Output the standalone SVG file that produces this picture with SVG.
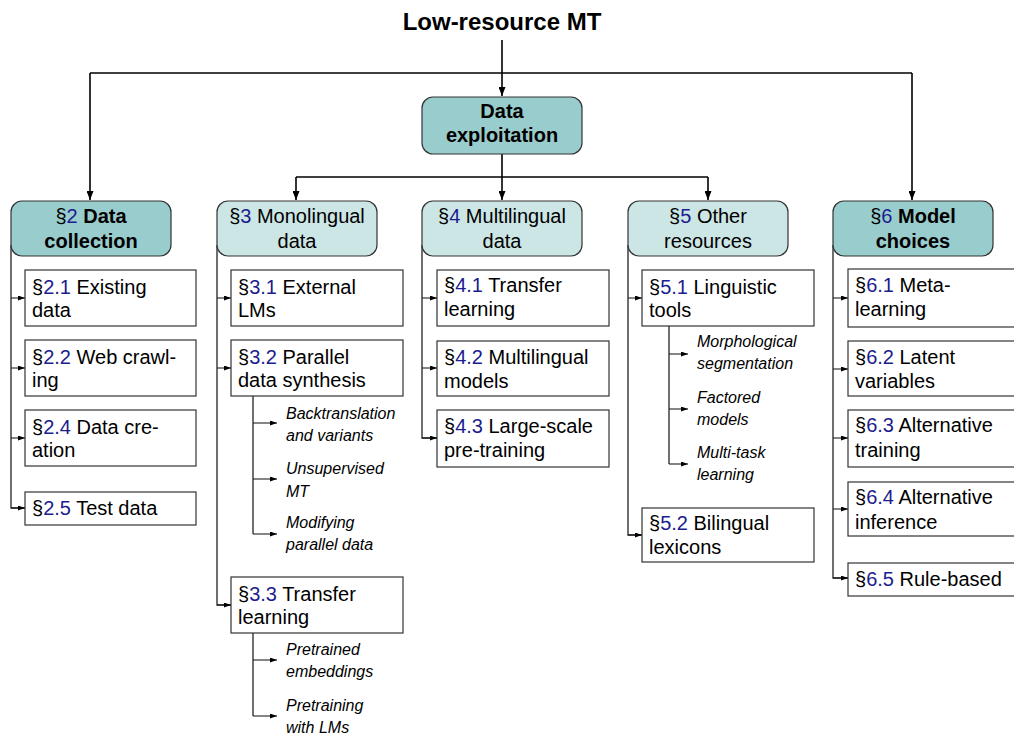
<svg xmlns="http://www.w3.org/2000/svg" width="1014" height="736" viewBox="0 0 1014 736">
<defs>
<marker id="big" viewBox="0 0 9 7" refX="9" refY="3.5" markerWidth="9" markerHeight="7" markerUnits="userSpaceOnUse" orient="auto">
<path d="M0,0 L9,3.5 L0,7 z" fill="#000"/>
</marker>
<marker id="small" viewBox="0 0 7 5" refX="7" refY="2.5" markerWidth="7" markerHeight="5" markerUnits="userSpaceOnUse" orient="auto">
<path d="M0,0 L7,2.5 L0,5 z" fill="#000"/>
</marker>
</defs>
<style>
text{font-family:"Liberation Sans",Arial,Helvetica,sans-serif;fill:#000}
.title{font-size:24px;font-weight:bold}
.h{font-size:20px;text-anchor:middle}
.b{font-weight:bold}
.t{font-size:20px}
.n{fill:#1c1c8e}
.it{font-size:16px;font-style:italic}
.dark{fill:#99cccc;stroke:#333;stroke-width:1.2}
.light{fill:#cce6e6;stroke:#333;stroke-width:1.2}
.box{fill:#fff;stroke:#333;stroke-width:1.2}
.main{fill:none;stroke:#000;stroke-width:1.6}
.col{fill:none;stroke:#222;stroke-width:1.3}
.arr{fill:none;stroke:#222;stroke-width:1.1}
</style>
<rect width="1014" height="736" fill="#fff"/>

<g id="title"><text class="title" x="502" y="30" text-anchor="middle">Low-resource MT</text></g>

<g id="connectors">
<path class="main" d="M502,40 V96" marker-end="url(#big)"/>
<path class="main" d="M90,73 H912"/>
<path class="main" d="M90,73 V200" marker-end="url(#big)"/>
<path class="main" d="M912,73 V200" marker-end="url(#big)"/>
<path class="main" d="M502,154 V200" marker-end="url(#big)"/>
<path class="main" d="M296,177 H708"/>
<path class="main" d="M296,177 V200" marker-end="url(#big)"/>
<path class="main" d="M708,177 V200" marker-end="url(#big)"/>

<path class="col" d="M11,245 V508 H25"/>
<path class="arr" d="M11,298 H25" marker-end="url(#small)"/>
<path class="arr" d="M11,368 H25" marker-end="url(#small)"/>
<path class="arr" d="M11,438 H25" marker-end="url(#small)"/>
<path class="arr" d="M11,508 H25" marker-end="url(#small)"/>

<path class="col" d="M217,245 V605 H231"/>
<path class="arr" d="M217,298 H231" marker-end="url(#small)"/>
<path class="arr" d="M217,368 H231" marker-end="url(#small)"/>
<path class="arr" d="M217,605 H231" marker-end="url(#small)"/>

<path class="col" d="M253,396 V534"/>
<path class="arr" d="M253,423 H277" marker-end="url(#small)"/>
<path class="arr" d="M253,479 H277" marker-end="url(#small)"/>
<path class="arr" d="M253,534 H277" marker-end="url(#small)"/>

<path class="col" d="M253,633 V716"/>
<path class="arr" d="M253,660 H277" marker-end="url(#small)"/>
<path class="arr" d="M253,716 H277" marker-end="url(#small)"/>

<path class="col" d="M422,245 V438 H437"/>
<path class="arr" d="M422,298 H437" marker-end="url(#small)"/>
<path class="arr" d="M422,368 H437" marker-end="url(#small)"/>
<path class="arr" d="M422,438 H437" marker-end="url(#small)"/>

<path class="col" d="M628,245 V535 H642"/>
<path class="arr" d="M628,298 H642" marker-end="url(#small)"/>
<path class="arr" d="M628,535 H642" marker-end="url(#small)"/>

<path class="col" d="M669,326 V464"/>
<path class="arr" d="M669,354 H688" marker-end="url(#small)"/>
<path class="arr" d="M669,409 H688" marker-end="url(#small)"/>
<path class="arr" d="M669,464 H688" marker-end="url(#small)"/>

<path class="col" d="M833,245 V578 H848"/>
<path class="arr" d="M833,298 H848" marker-end="url(#small)"/>
<path class="arr" d="M833,369 H848" marker-end="url(#small)"/>
<path class="arr" d="M833,438 H848" marker-end="url(#small)"/>
<path class="arr" d="M833,509 H848" marker-end="url(#small)"/>
<path class="arr" d="M833,578 H848" marker-end="url(#small)"/>
</g>

<g id="data-exploitation">
<rect class="dark" x="422" y="97" width="160" height="57" rx="11"/>
<text class="h b" x="502" y="118">Data</text>
<text class="h b" x="502" y="142">exploitation</text>
</g>

<g id="s2">
<rect class="dark" x="11" y="201" width="160" height="55" rx="11"/>
<text class="h" x="91" y="223">§<tspan class="n">2</tspan> <tspan class="b">Data</tspan></text>
<text class="h b" x="91" y="248">collection</text>
</g>
<g id="s3">
<rect class="light" x="217" y="201" width="160" height="55" rx="11"/>
<text class="h" x="297" y="223">§<tspan class="n">3</tspan> Monolingual</text>
<text class="h" x="297" y="248">data</text>
</g>
<g id="s4">
<rect class="light" x="422" y="201" width="160" height="55" rx="11"/>
<text class="h" x="502" y="223">§<tspan class="n">4</tspan> Multilingual</text>
<text class="h" x="502" y="248">data</text>
</g>
<g id="s5">
<rect class="light" x="628" y="201" width="160" height="55" rx="11"/>
<text class="h" x="708" y="223">§<tspan class="n">5</tspan> Other</text>
<text class="h" x="708" y="248">resources</text>
</g>
<g id="s6">
<rect class="dark" x="833" y="201" width="160" height="55" rx="11"/>
<text class="h" x="913" y="223">§<tspan class="n">6</tspan> <tspan class="b">Model</tspan></text>
<text class="h b" x="913" y="248">choices</text>
</g>

<g id="s2-1"><rect class="box" x="25" y="270" width="171" height="56"/>
<text class="t" x="32" y="294">§<tspan class="n">2.1</tspan> Existing</text><text class="t" x="32" y="317">data</text></g>
<g id="s2-2"><rect class="box" x="25" y="340" width="171" height="56"/>
<text class="t" x="32" y="364">§<tspan class="n">2.2</tspan> Web crawl-</text><text class="t" x="32" y="387">ing</text></g>
<g id="s2-4"><rect class="box" x="25" y="410" width="171" height="56"/>
<text class="t" x="32" y="434">§<tspan class="n">2.4</tspan> Data cre-</text><text class="t" x="32" y="457">ation</text></g>
<g id="s2-5"><rect class="box" x="25" y="492" width="171" height="33"/>
<text class="t" x="32" y="515">§<tspan class="n">2.5</tspan> Test data</text></g>

<g id="s3-1"><rect class="box" x="231" y="270" width="172" height="56"/>
<text class="t" x="238" y="294">§<tspan class="n">3.1</tspan> External</text><text class="t" x="238" y="317">LMs</text></g>
<g id="s3-2"><rect class="box" x="231" y="340" width="172" height="56"/>
<text class="t" x="238" y="364">§<tspan class="n">3.2</tspan> Parallel</text><text class="t" x="238" y="387">data synthesis</text></g>
<g id="s3-2-items">
<text class="it" x="286" y="419">Backtranslation</text><text class="it" x="286" y="441">and variants</text>
<text class="it" x="286" y="474">Unsupervised</text><text class="it" x="286" y="497">MT</text>
<text class="it" x="286" y="528">Modifying</text><text class="it" x="286" y="550">parallel data</text>
</g>
<g id="s3-3"><rect class="box" x="231" y="577" width="172" height="56"/>
<text class="t" x="238" y="601">§<tspan class="n">3.3</tspan> Transfer</text><text class="t" x="238" y="624">learning</text></g>
<g id="s3-3-items">
<text class="it" x="286" y="655">Pretrained</text><text class="it" x="286" y="677">embeddings</text>
<text class="it" x="286" y="711">Pretraining</text><text class="it" x="286" y="733">with LMs</text>
</g>

<g id="s4-1"><rect class="box" x="437" y="270" width="172" height="56"/>
<text class="t" x="444" y="292">§<tspan class="n">4.1</tspan> Transfer</text><text class="t" x="444" y="316">learning</text></g>
<g id="s4-2"><rect class="box" x="437" y="341" width="172" height="55"/>
<text class="t" x="444" y="364">§<tspan class="n">4.2</tspan> Multilingual</text><text class="t" x="444" y="388">models</text></g>
<g id="s4-3"><rect class="box" x="437" y="410" width="172" height="57"/>
<text class="t" x="444" y="433">§<tspan class="n">4.3</tspan> Large-scale</text><text class="t" x="444" y="457">pre-training</text></g>

<g id="s5-1"><rect class="box" x="642" y="270" width="172" height="56"/>
<text class="t" x="649" y="294">§<tspan class="n">5.1</tspan> Linguistic</text><text class="t" x="649" y="317">tools</text></g>
<g id="s5-1-items">
<text class="it" x="697" y="347">Morphological</text><text class="it" x="697" y="369">segmentation</text>
<text class="it" x="697" y="403">Factored</text><text class="it" x="697" y="425">models</text>
<text class="it" x="697" y="458">Multi-task</text><text class="it" x="697" y="480">learning</text>
</g>
<g id="s5-2"><rect class="box" x="642" y="508" width="172" height="54"/>
<text class="t" x="649" y="530">§<tspan class="n">5.2</tspan> Bilingual</text><text class="t" x="649" y="554">lexicons</text></g>

<g id="s6-1"><rect class="box" x="848" y="269" width="172" height="58"/>
<text class="t" x="855" y="292">§<tspan class="n">6.1</tspan> Meta-</text><text class="t" x="855" y="316">learning</text></g>
<g id="s6-2"><rect class="box" x="848" y="341" width="172" height="55"/>
<text class="t" x="855" y="364">§<tspan class="n">6.2</tspan> Latent</text><text class="t" x="855" y="388">variables</text></g>
<g id="s6-3"><rect class="box" x="848" y="410" width="172" height="57"/>
<text class="t" x="855" y="432">§<tspan class="n">6.3</tspan> Alternative</text><text class="t" x="855" y="457">training</text></g>
<g id="s6-4"><rect class="box" x="848" y="482" width="172" height="54"/>
<text class="t" x="855" y="504">§<tspan class="n">6.4</tspan> Alternative</text><text class="t" x="855" y="529">inference</text></g>
<g id="s6-5"><rect class="box" x="848" y="563" width="172" height="33"/>
<text class="t" x="855" y="586">§<tspan class="n">6.5</tspan> Rule-based</text></g>
</svg>
